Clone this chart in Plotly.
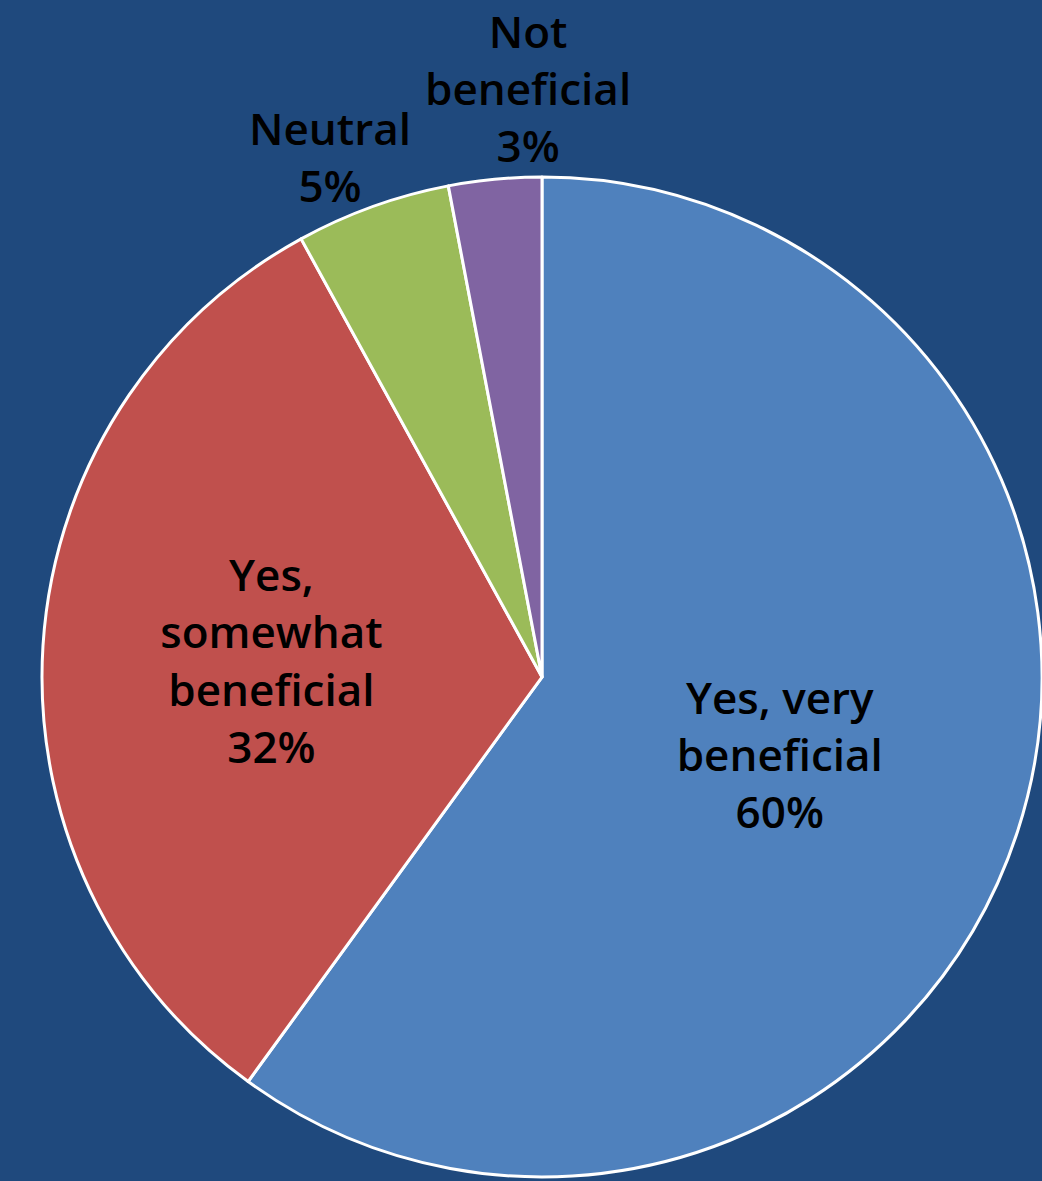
import plotly.graph_objects as go

labels = ["Yes, very<br>beneficial", "Yes,<br>somewhat<br>beneficial", "Neutral", "Not<br>beneficial"]
values = [60, 32, 5, 3]
colors = ["#4F81BD", "#C0504D", "#9BBB59", "#8064A2"]
positions = ["inside", "inside", "none", "none"]

# outside label placement (paper coordinates) for the small slices
outside_label_xy = {2: (0.3167, 0.8679), 3: (0.5067, 0.9255)}

total = sum(values)
font = dict(family="Open Sans", size=44, color="black", weight=600)

fig = go.Figure(go.Pie(
    labels=labels,
    values=values,
    sort=False,
    direction="clockwise",
    rotation=0,
    marker=dict(colors=colors, line=dict(color="white", width=3)),
    texttemplate="%{label}<br>%{percent:.0%}",
    textposition=positions,
    insidetextorientation="horizontal",
    textfont=font,
    domain=dict(x=[0.0403, 1.0], y=[0.0008, 0.8527]),
    hoverinfo="skip",
))

for i, (ax, ay) in outside_label_xy.items():
    pct = round(values[i] / total * 100)
    fig.add_annotation(
        x=ax, y=ay, xref="paper", yref="paper",
        text=f"{labels[i]}<br>{pct}%",
        showarrow=False, font=font,
        xanchor="center", yanchor="middle", align="center",
    )

fig.update_layout(
    width=1042, height=1181,
    margin=dict(l=0, r=0, t=0, b=0),
    paper_bgcolor="#1F497D",
    plot_bgcolor="#1F497D",
    showlegend=False,
)

fig.write_html(
    "out.html",
    config={"displayModeBar": False},
    post_script="document.body.style.margin='0';document.body.style.padding='0';document.body.style.overflow='hidden';",
)
